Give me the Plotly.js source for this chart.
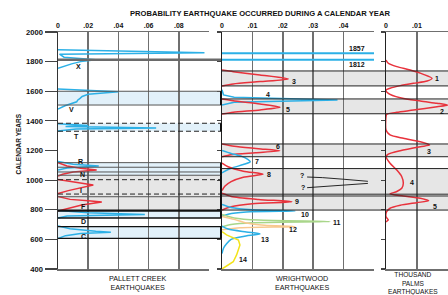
<!DOCTYPE html>
<html><head><meta charset="utf-8">
<script src="https://cdn.plot.ly/plotly-3.0.1.min.js"></script>
<style>html,body{margin:0;padding:0;background:#fff}#chart{width:448px;height:295px}</style>
</head><body><div id="chart"></div>
<script>
// ---------- DATA ----------
const yearTicks = [400, 600, 800, 1000, 1200, 1400, 1600, 1800, 2000];
const pcTickVals = [0, 0.02, 0.04, 0.06, 0.08, 0.1];
const pcTickText = ['0', '.02', '.04', '.06', '.08', ''];
const wwTickVals = [0, 0.01, 0.02, 0.03, 0.04, 0.05];
const wwTickText = ['0', '.01', '.02', '.03', '.04', ''];
const tpTickVals = [0, 0.01, 0.02];
const tpTickText = ['0', '.01', '.02'];

// Pallett Creek curves
const pcX_years = [1880, 1860, 1850, 1830, 1812, 1800, 1785, 1770, 1755];
const pcX_prob  = [0, 0.097, 0.001, 0.004, 0.025, 0.015, 0.009, 0.004, 0];
const pcV_years = [1615, 1597, 1579, 1565, 1552, 1540, 1529, 1502, 1480];
const pcV_prob  = [0, 0.04, 0.02, 0.016, 0.0146, 0.013, 0.0124, 0.0046, 0];
const pcT_years = [1380, 1368, 1362, 1352, 1345, 1332];
const pcT_prob  = [0, 0.02, 0.005, 0.065, 0.012, 0];
const pcR_years = [1125, 1108, 1095, 1082, 1068];
const pcR_prob  = [0, 0.01, 0.027, 0.006, 0];
const pcN_years = [1118, 1095, 1080, 1068, 1055, 1040, 1028];
const pcN_prob  = [0, 0.006, 0.015, 0.0256, 0.01, 0.003, 0];
const pcI_years = [1005, 990, 975, 967, 951, 929, 910];
const pcI_prob  = [0, 0.008, 0.018, 0.0234, 0.0157, 0.0068, 0];
const pcF_years = [890, 870, 860, 852, 832, 816, 803, 792];
const pcF_prob  = [0, 0.008, 0.02, 0.029, 0.0157, 0.009, 0.0046, 0];
const pcE_years = [795, 780, 768, 758, 745];
const pcE_prob  = [0, 0.02, 0.0575, 0.006, 0];
const pcC_years = [690, 672, 655, 648, 640, 625, 605];
const pcC_prob  = [0, 0.008, 0.025, 0.035, 0.015, 0.005, 0];

// Wrightwood curves
const wwHist_years = [1857, 1812];
const wwHist_prob  = [0, 0.05];
const ww3_years  = [1743, 1732, 1710, 1683, 1665, 1649, 1635];
const ww3_prob   = [0, 0.0037, 0.0125, 0.0218, 0.0125, 0.0037, 0];
const ww4_years  = [1610, 1575, 1560, 1541, 1525, 1507];
const ww4_prob   = [0, 0.0005, 0.004, 0.038, 0.004, 0];
const ww5_years  = [1548, 1536, 1514, 1492, 1474, 1458, 1446];
const ww5_prob   = [0, 0.0037, 0.0125, 0.0191, 0.0125, 0.0037, 0];
const ww6_years  = [1244, 1228, 1212, 1198, 1185, 1172, 1158];
const ww6_prob   = [0, 0.004, 0.012, 0.019, 0.011, 0.003, 0];
const ww7_years  = [1200, 1180, 1160, 1140, 1124, 1105, 1080, 1050];
const ww7_prob   = [0, 0.003, 0.0065, 0.0085, 0.0093, 0.007, 0.003, 0];
const ww8_years  = [1115, 1090, 1060, 1040, 1020, 990, 960, 930];
const ww8_prob   = [0, 0.002, 0.007, 0.0135, 0.007, 0.003, 0.001, 0];
const wwQa_years = [1021, 1017, 1006, 992];
const wwQa_prob  = [0.028, 0.033, 0.040, 0.048];
const wwQb_years = [949, 957, 966, 978];
const wwQb_prob  = [0.028, 0.034, 0.041, 0.048];
const ww9_years  = [911, 890, 870, 854, 840, 820, 798];
const ww9_prob   = [0, 0.003, 0.012, 0.023, 0.01, 0.003, 0];
const ww10_years = [835, 815, 800, 791, 785, 770, 755];
const ww10_prob  = [0, 0.003, 0.01, 0.024, 0.008, 0.002, 0];
const ww11_years = [768, 745, 730, 720, 712, 700, 685];
const ww11_prob  = [0, 0.004, 0.012, 0.0355, 0.01, 0.003, 0];
const ww12_years = [755, 735, 710, 695, 686, 678, 665];
const ww12_prob  = [0, 0.004, 0.008, 0.014, 0.024, 0.006, 0];
const ww13_years = [690, 670, 650, 637, 620, 600, 570, 540, 505];
const ww13_prob  = [0, 0.002, 0.008, 0.0125, 0.007, 0.003, 0.0015, 0.0005, 0];
const ww14_years = [652, 630, 596, 562, 495, 449, 400];
const ww14_prob  = [0, 0.0015, 0.0054, 0.0059, 0.0048, 0.0037, 0];

// Thousand Palms curve
const tp_years = [1811, 1789, 1766, 1743, 1714, 1687, 1669, 1654, 1638, 1620, 1608, 1586, 1556, 1534, 1519, 1507, 1496, 1473, 1458, 1444, 1428, 1338, 1305, 1282, 1259, 1237, 1226, 1199, 1176, 1158, 1114, 1068, 1023, 979, 945, 923, 907, 893, 877, 861, 848, 830, 810, 787, 753, 731, 719];
const tp_prob  = [0, 0.00075, 0.0035, 0.0078, 0.0121, 0.0149, 0.0133, 0.0089, 0.0046, 0.0013, 0, 0.00075, 0.0046, 0.0111, 0.0165, 0.0199, 0.0165, 0.0089, 0.0035, 0.0002, 0, 0, 0.0013, 0.0056, 0.0111, 0.0141, 0.0111, 0.0046, 0.00075, 0, 0.0013, 0.0035, 0.0051, 0.0056, 0.0051, 0.0035, 0.0013, 0.0056, 0.0111, 0.0138, 0.01, 0.0046, 0.0013, 0.0002, 0, 0.00075, 0];

// Event intervals (years)
const pcHistoric = 1812;
const pcBlueBands = [[1600, 1507], [1384, 1330], [1118, 1033], [791, 744], [686, 607]];
const pcGrayBands = [[1033, 796]];
const pcSolidLines = [1600, 1507, 1118, 1087, 1055, 1033, 888];
const pcDashedLines = [1384, 1330, 1003, 906];
const pcBlackLines = [794, 744, 686, 607];
const wwBands = [[1737, 1636], [1548, 1448], [1244, 1158], [1078, 905], [893, 798]];

// Labels
const pcLabels = [['X', 0.0139, 1770], ['V', 0.0089, 1480], ['T', 0.0122, 1293], ['R', 0.015, 1129], ['N', 0.0162, 1035], ['I', 0.0155, 929], ['F', 0.0166, 821], ['D', 0.0166, 724], ['C', 0.0166, 618]];
const wwLabels = [['1857', 0.0443, 1890], ['1812', 0.0444, 1784], ['3', 0.0238, 1664], ['4', 0.0152, 1575], ['5', 0.0218, 1478], ['6', 0.0184, 1226], ['7', 0.0114, 1124], ['8', 0.0155, 1035], ['?', 0.0262, 1028], ['?', 0.0265, 949], ['9', 0.0247, 854], ['10', 0.0273, 769], ['11', 0.0377, 711], ['12', 0.0235, 667], ['13', 0.014, 600], ['14', 0.0068, 461]];
const tpLabels = [['1', 0.0165, 1687], ['2', 0.0181, 1462], ['3', 0.014, 1193], ['4', 0.0084, 983], ['5', 0.0159, 821]];

// ---------- STYLE ----------
const W = 448, H = 295, TOP = 32, BOT = 269;
const BLUE = '#2cb0e6', RED = '#e8323c', GREEN = '#a9d68a', ORANGE = '#f8c88e', YELLOW = '#f3e31a';
const GRID = '#6f6f6f';
const INK = '#111111';
const FONT = 'Liberation Sans, Arial, sans-serif';
const xp = v => v / W;
const yp = v => (BOT - v) / (BOT - TOP);

function line(xs, ys, color, ax, opts) {
  return Object.assign({type: 'scatter', mode: 'lines', x: xs, y: ys, xaxis: ax[0], yaxis: ax[1],
    line: {color: color, width: 1.5}, hoverinfo: 'skip'}, opts || {});
}
const A1 = ['x', 'y'], A2 = ['x2', 'y2'], A3 = ['x3', 'y3'];
function spl(xs, ys, color, ax) { const t = line(xs, ys, color, ax); t.line.shape = 'spline'; t.line.smoothing = 0.7; return t; }

const traces = [
  line(pcX_prob, pcX_years, BLUE, A1),
  line(pcV_prob, pcV_years, BLUE, A1),
  line(pcT_prob, pcT_years, BLUE, A1),
  line(pcR_prob, pcR_years, BLUE, A1),
  line(pcN_prob, pcN_years, RED, A1),
  line(pcI_prob, pcI_years, RED, A1),
  line(pcF_prob, pcF_years, RED, A1),
  line(pcE_prob, pcE_years, BLUE, A1),
  line(pcC_prob, pcC_years, BLUE, A1),
  line(wwHist_prob, [wwHist_years[0], wwHist_years[0]], BLUE, A2, {line: {color: BLUE, width: 2}}),
  line(wwHist_prob, [wwHist_years[1], wwHist_years[1]], BLUE, A2, {line: {color: BLUE, width: 2}}),
  spl(ww3_prob, ww3_years, RED, A2),
  line(ww4_prob, ww4_years, BLUE, A2),
  spl(ww5_prob, ww5_years, RED, A2),
  spl(ww6_prob, ww6_years, RED, A2),
  spl(ww7_prob, ww7_years, BLUE, A2),
  spl(ww8_prob, ww8_years, RED, A2),
  line(wwQa_prob, wwQa_years, INK, A2, {line: {color: INK, width: 0.9}}),
  line(wwQb_prob, wwQb_years, INK, A2, {line: {color: INK, width: 0.9}}),
  spl(ww9_prob, ww9_years, RED, A2),
  spl(ww10_prob, ww10_years, BLUE, A2),
  spl(ww11_prob, ww11_years, GREEN, A2),
  spl(ww12_prob, ww12_years, ORANGE, A2),
  spl(ww13_prob, ww13_years, BLUE, A2),
  line(ww14_prob, ww14_years, YELLOW, A2),
  spl(tp_prob, tp_years, RED, A3)
];

// ---------- SHAPES ----------
const shapes = [];
const P1L = xp(58), P1R = xp(221), P2L = xp(222), P3R = 1;
pcBlueBands.forEach(b => shapes.push({type: 'rect', xref: 'paper', yref: 'y', x0: P1L, x1: P1R, y0: b[0], y1: b[1], fillcolor: '#e2f1fa', line: {width: 0}, layer: 'below'}));
pcGrayBands.forEach(b => shapes.push({type: 'rect', xref: 'paper', yref: 'y', x0: P1L, x1: P1R, y0: b[0], y1: b[1], fillcolor: '#e6e6e6', line: {width: 0}, layer: 'below'}));
wwBands.forEach(b => shapes.push({type: 'rect', xref: 'paper', yref: 'y', x0: P2L, x1: P3R, y0: b[0], y1: b[1], fillcolor: '#e6e6e6', line: {width: 0}, layer: 'below'}));
const hl = (y, x0, x1, color, width, dash) => shapes.push({type: 'line', xref: 'paper', yref: 'y', x0: x0, x1: x1, y0: y, y1: y, line: {color: color, width: width, dash: dash || 'solid'}, layer: 'above'});
hl(pcHistoric, P1L, P1R, '#6a6a6a', 2.5);
pcSolidLines.forEach(y => hl(y, P1L, P1R, '#555', 1));
pcDashedLines.forEach(y => hl(y, P1L, P1R, '#222', 1, '5px,3px'));
pcBlackLines.forEach((y, i) => hl(y, P1L, P1R, INK, i === 0 ? 2.2 : 1.4));
wwBands.forEach(b => { hl(b[0], P2L, P3R, '#222', 1); hl(b[1], P2L, P3R, '#222', 1); });
pcBlueBands.concat(pcGrayBands).forEach(b => shapes.push({type: 'line', xref: 'paper', yref: 'y', x0: xp(221), x1: xp(221), y0: b[0], y1: b[1], line: {color: INK, width: 2}, layer: 'above'}));

// ---------- ANNOTATIONS ----------
const ann = [];
const lbl = (t, x, y, xr, yr) => ann.push({text: t, x: x, y: y, xref: xr, yref: yr, showarrow: false, font: {family: FONT, size: 7, color: INK, weight: 'bold'}, xanchor: 'center', yanchor: 'middle'});
pcLabels.forEach(l => lbl(l[0], l[1], l[2], 'x', 'y'));
wwLabels.forEach(l => lbl(l[0], l[1], l[2], 'x2', 'y2'));
tpLabels.forEach(l => lbl(l[0], l[1], l[2], 'x3', 'y3'));
const ptxt = (t, x, y, size, bold, angle) => ann.push({text: t, x: xp(x), y: yp(y), xref: 'paper', yref: 'paper', showarrow: false, textangle: angle || 0, font: {family: FONT, size: size, color: INK, weight: bold ? 'bold' : 'normal'}, xanchor: 'center', yanchor: 'middle', borderpad: 0});
ptxt('PROBABILITY EARTHQUAKE OCCURRED DURING A CALENDAR YEAR', 259.5, 13.3, 7.6, true);
ptxt('CALENDAR YEARS', 18, 144.5, 6.5, true, -90);
ptxt('PALLETT CREEK<br>EARTHQUAKES', 137.5, 283.3, 7.2, false);
ptxt('WRIGHTWOOD<br>EARTHQUAKES', 301.5, 283.3, 7.2, false);
ptxt('THOUSAND<br>PALMS<br>EARTHQUAKES', 413, 283.6, 6.6, false);

// ---------- AXES ----------
const xBase = {side: 'top', color: INK, showgrid: true, gridcolor: GRID, gridwidth: 1.5, showline: true, linecolor: GRID, linewidth: 1.5, mirror: true, zeroline: false, ticks: '', fixedrange: true, tickfont: {family: FONT, size: 7, color: INK, weight: 'bold'}, tickmode: 'array'};
const yBase = {range: [400, 2000], tickvals: yearTicks, tickmode: 'array', showgrid: false, zeroline: false, fixedrange: true, domain: [0, 1], color: INK};

const layout = {
  width: W, height: H, margin: {l: 0, r: 0, t: TOP, b: H - BOT, pad: 0}, showlegend: false,
  paper_bgcolor: '#fff', plot_bgcolor: 'rgba(0,0,0,0)', hovermode: false,
  font: {family: FONT, size: 7, color: INK},
  xaxis: Object.assign({}, xBase, {domain: [xp(58), xp(209)], range: [0, 0.1], tickvals: pcTickVals, ticktext: pcTickText, anchor: 'y'}),
  xaxis2: Object.assign({}, xBase, {domain: [xp(222), xp(374)], range: [0, 0.05], tickvals: wwTickVals, ticktext: wwTickText, anchor: 'y2'}),
  xaxis3: Object.assign({}, xBase, {domain: [xp(386), 1], range: [0, 0.02005], tickvals: tpTickVals, ticktext: tpTickText, anchor: 'y3'}),
  yaxis: Object.assign({}, yBase, {anchor: 'x', ticks: 'outside', ticklen: 12, tickwidth: 1.2, tickcolor: '#444', showline: true, linecolor: '#333', linewidth: 1.5, tickfont: {family: FONT, size: 7.6, color: INK, weight: 'bold'}}),
  yaxis2: Object.assign({}, yBase, {anchor: 'x2', ticks: 'outside', ticklen: 4, tickwidth: 1.2, tickcolor: '#444', showticklabels: false, showline: true, linecolor: '#222', linewidth: 1.5}),
  yaxis3: Object.assign({}, yBase, {anchor: 'x3', ticks: 'outside', ticklen: 4, tickwidth: 1.2, tickcolor: '#444', showticklabels: false, showline: true, linecolor: '#222', linewidth: 1.5}),
  shapes: shapes, annotations: ann
};

Plotly.newPlot('chart', traces, layout, {displayModeBar: false, staticPlot: true});
</script>
</body></html>
